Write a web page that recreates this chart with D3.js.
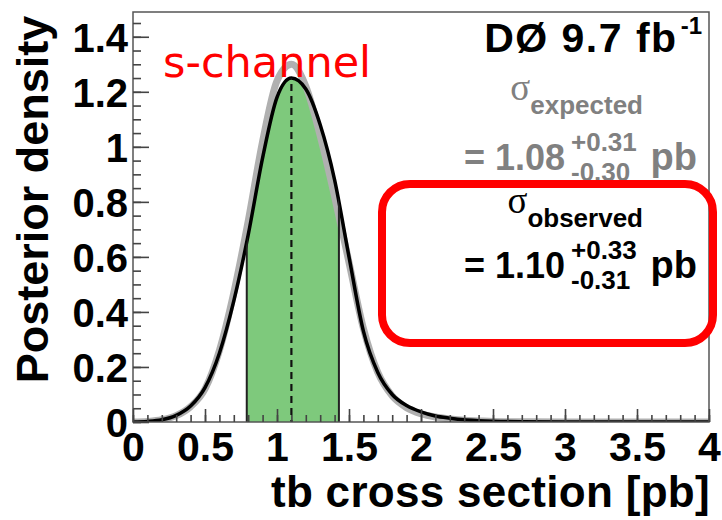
<!DOCTYPE html>
<html>
<head>
<meta charset="utf-8">
<script src="https://cdn.jsdelivr.net/npm/d3@7"></script>
<style>
  html, body { margin: 0; padding: 0; background: #fff; }
  svg { display: block; }
</style>
</head>
<body>
<svg id="chart" width="722" height="520"></svg>
<script>
// Cross-section grid (pb) and posterior densities
const xs = [0.0, 0.1, 0.2, 0.3, 0.4, 0.5, 0.6, 0.7, 0.8, 0.9, 1.0, 1.1, 1.2, 1.3, 1.4,
            1.5, 1.6, 1.7, 1.8, 1.9, 2.0, 2.1, 2.2, 2.3, 2.4, 2.5, 2.7, 3.0, 3.5, 4.0];
const observedDensity = [0.000, 0.002, 0.008, 0.024, 0.058, 0.125, 0.25, 0.44, 0.68, 0.96, 1.18, 1.25, 1.21, 1.08, 0.88,
                         0.60, 0.33, 0.18, 0.10, 0.06, 0.037, 0.022, 0.014, 0.008, 0.005, 0.003, 0.001, 0.0, 0.0, 0.0];
const expectedDensity = [0.000, 0.002, 0.008, 0.023, 0.056, 0.120, 0.26, 0.47, 0.73, 1.02, 1.24, 1.30, 1.22, 1.04, 0.82,
                         0.58, 0.34, 0.18, 0.095, 0.052, 0.030, 0.018, 0.011, 0.006, 0.004, 0.002, 0.001, 0.0, 0.0, 0.0];

// Measured cross section and its 68% interval
const observedCentral = 1.10;
const observedLow = 0.79;
const observedHigh = 1.43;

// Axis tick labels
const xTicks = [0, 0.5, 1, 1.5, 2, 2.5, 3, 3.5, 4];
const yTicks = [0, 0.2, 0.4, 0.6, 0.8, 1, 1.2, 1.4];

const svg = d3.select("#chart");
const pLeft = 133, pRight = 709, pTop = 12, pBottom = 422;

const x = d3.scaleLinear().domain([0, 4]).range([pLeft, pRight]);
const y = d3.scaleLinear().domain([0, 1.49]).range([pBottom, pTop]);

const obsPts = xs.map((v, i) => [v, observedDensity[i]]);
const expPts = xs.map((v, i) => [v, expectedDensity[i]]);

const line = d3.line().x(d => x(d[0])).y(d => y(d[1])).curve(d3.curveMonotoneX);
const area = d3.area().x(d => x(d[0])).y0(y(0)).y1(d => y(d[1])).curve(d3.curveMonotoneX);

const defs = svg.append("defs");
defs.append("clipPath").attr("id", "under-obs")
  .append("path").attr("d", area(obsPts));
defs.append("clipPath").attr("id", "plot-area")
  .append("rect").attr("x", pLeft).attr("y", pTop).attr("width", pRight - pLeft).attr("height", pBottom - pTop);

// Shaded 68% band under the observed posterior
const band = svg.append("g").attr("clip-path", "url(#under-obs)");
band.append("rect")
  .attr("x", x(observedLow)).attr("y", pTop)
  .attr("width", x(observedHigh) - x(observedLow)).attr("height", pBottom - pTop)
  .attr("fill", "#7ec97c");

// Expected posterior (grey) and observed posterior (black)
const curves = svg.append("g").attr("clip-path", "url(#plot-area)");
curves.append("path").attr("d", line(expPts))
  .attr("fill", "none").attr("stroke", "#b0b0b0").attr("stroke-width", 7)
  .attr("stroke-linejoin", "round");

const bandLines = svg.append("g").attr("clip-path", "url(#under-obs)");
bandLines.selectAll("line.edge").data([observedLow, observedHigh]).join("line")
  .attr("class", "edge")
  .attr("x1", d => x(d)).attr("x2", d => x(d))
  .attr("y1", pTop).attr("y2", pBottom)
  .attr("stroke", "#222").attr("stroke-width", 2);

bandLines.append("line")
  .attr("x1", x(observedCentral)).attr("x2", x(observedCentral))
  .attr("y1", pTop).attr("y2", pBottom)
  .attr("stroke", "#111").attr("stroke-width", 2.2)
  .attr("stroke-dasharray", "7,5");

curves.append("path").attr("d", line(obsPts))
  .attr("fill", "none").attr("stroke", "#000").attr("stroke-width", 3.5)
  .attr("stroke-linejoin", "round");

// Frame
svg.append("rect")
  .attr("x", pLeft).attr("y", pTop).attr("width", pRight - pLeft).attr("height", pBottom - pTop)
  .attr("fill", "none").attr("stroke", "#555").attr("stroke-width", 1.5);

// Axes: ticks drawn inward, minor ticks without labels
const tickFont = "'Liberation Sans', Arial, Helvetica, sans-serif";

const yMinor = svg.append("g").attr("transform", `translate(${pLeft},0)`)
  .call(d3.axisLeft(y).tickValues(y.ticks(30)).tickSizeInner(-8).tickSizeOuter(0).tickFormat(""));
const yMajor = svg.append("g").attr("transform", `translate(${pLeft},0)`)
  .call(d3.axisLeft(y).tickValues(yTicks).tickSizeInner(-16).tickSizeOuter(0).tickPadding(5)
    .tickFormat(d3.format("")));
const xMinor = svg.append("g").attr("transform", `translate(0,${pBottom})`)
  .call(d3.axisBottom(x).tickValues(x.ticks(40)).tickSizeInner(-7).tickSizeOuter(0).tickFormat(""));
const xMajor = svg.append("g").attr("transform", `translate(0,${pBottom})`)
  .call(d3.axisBottom(x).tickValues(xTicks).tickSizeInner(-13).tickSizeOuter(0).tickPadding(4)
    .tickFormat(d3.format("")));

[yMinor, yMajor, xMinor, xMajor].forEach(g => {
  g.select(".domain").remove();
  g.selectAll(".tick line").attr("stroke", "#444").attr("stroke-width", 1.6);
});
yMajor.selectAll(".tick text")
  .attr("font-family", tickFont).attr("font-weight", "bold").attr("font-size", 40)
  .attr("fill", "#000").attr("dy", "0.36em").attr("x", -5);
xMajor.selectAll(".tick text")
  .attr("font-family", tickFont).attr("font-weight", "bold").attr("font-size", 41)
  .attr("fill", "#000").attr("dy", "0").attr("y", 39);

// Axis titles
svg.append("text")
  .attr("transform", `translate(48,${(pTop + 377) / 2 + 5}) rotate(-90)`)
  .attr("text-anchor", "middle")
  .attr("font-family", tickFont).attr("font-weight", "bold").attr("font-size", 45)
  .text("Posterior density");

svg.append("text")
  .attr("x", 710).attr("y", 507).attr("text-anchor", "end")
  .attr("font-family", tickFont).attr("font-weight", "bold").attr("font-size", 44)
  .attr("letter-spacing", 0.3)
  .text("tb cross section [pb]");

// Channel label
svg.append("text")
  .attr("x", 163).attr("y", 77)
  .attr("font-family", "'Comic Sans MS', 'DejaVu Sans', sans-serif").attr("font-size", 43)
  .attr("fill", "#ff0000")
  .text("s-channel");

// Luminosity label
const lumi = svg.append("text")
  .attr("x", 702).attr("y", 52).attr("text-anchor", "end")
  .attr("font-family", tickFont).attr("font-weight", "bold").attr("font-size", 41)
  .attr("letter-spacing", 1.5).attr("fill", "#000");
lumi.append("tspan").text("DØ 9.7 fb");
lumi.append("tspan").attr("font-size", 24).attr("letter-spacing", 0).attr("dx", 3).attr("dy", -18).text("-1");

// Cross-section result blocks
function result(label, value, up, down, color, sigmaY, numY) {
  const g = svg.append("g").attr("fill", color);
  const t = g.append("text").attr("x", 643).attr("y", sigmaY).attr("text-anchor", "end");
  t.append("tspan").attr("font-family", "'Liberation Serif', 'DejaVu Serif', serif").attr("font-size", 37)
    .text("σ");
  t.append("tspan").attr("font-family", tickFont).attr("font-weight", "bold").attr("font-size", 26)
    .attr("dy", 14).text(label);

  g.append("text").attr("x", 565).attr("y", numY).attr("text-anchor", "end")
    .attr("font-family", tickFont).attr("font-weight", "bold").attr("font-size", 36)
    .text("= " + value);
  g.append("text").attr("x", 571).attr("y", numY - 19)
    .attr("font-family", tickFont).attr("font-weight", "bold").attr("font-size", 26)
    .text(up);
  g.append("text").attr("x", 571).attr("y", numY + 11)
    .attr("font-family", tickFont).attr("font-weight", "bold").attr("font-size", 26)
    .text(down);
  g.append("text").attr("x", 697).attr("y", numY).attr("text-anchor", "end")
    .attr("font-family", tickFont).attr("font-weight", "bold").attr("font-size", 38)
    .text("pb");
}
result("expected", "1.08", "+0.31", "-0.30", "#808080", 100, 170);
result("observed", "1.10", "+0.33", "-0.31", "#000000", 213, 278);

// Highlight box around the observed result
svg.append("rect")
  .attr("x", 382).attr("y", 184).attr("width", 331).attr("height", 159)
  .attr("rx", 28).attr("ry", 28)
  .attr("fill", "none").attr("stroke", "#ff0000").attr("stroke-width", 8);
</script>
</body>
</html>
